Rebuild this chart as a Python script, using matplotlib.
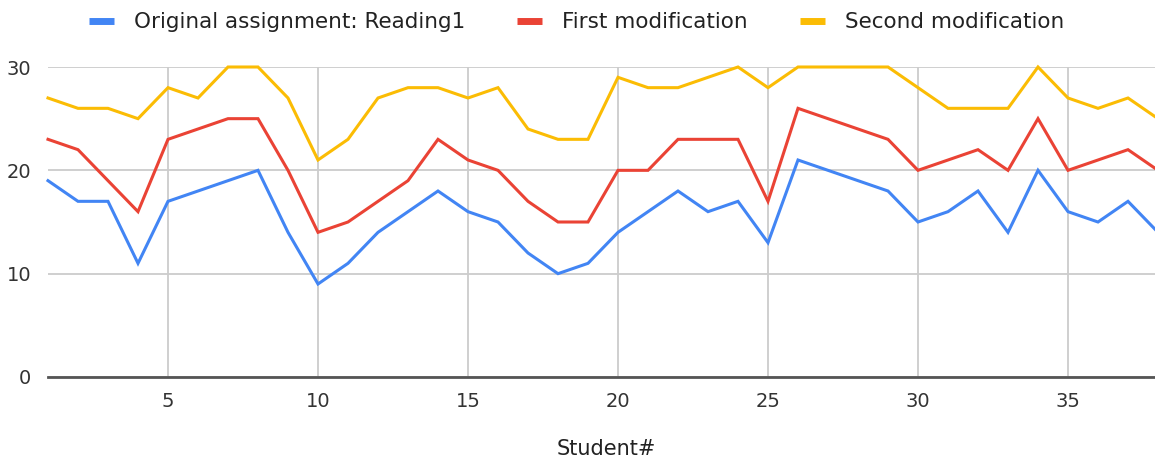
import numpy as np
import matplotlib
matplotlib.use('Agg')
import matplotlib.pyplot as plt

plt.rcParams['font.family'] = ['DejaVu Sans']

# 学生ごとの得点
students = list(range(1, 39))
original = [19, 17, 17, 11, 17, 18, 19, 20, 14, 9, 11, 14, 16, 18, 16, 15, 12, 10, 11, 14,
            16, 18, 16, 17, 13, 21, 20, 19, 18, 15, 16, 18, 14, 20, 16, 15, 17, 14]
first_mod = [23, 22, 19, 16, 23, 24, 25, 25, 20, 14, 15, 17, 19, 23, 21, 20, 17, 15, 15, 20,
             20, 23, 23, 23, 17, 26, 25, 24, 23, 20, 21, 22, 20, 25, 20, 21, 22, 20]
second_mod = [27, 26, 26, 25, 28, 27, 30, 30, 27, 21, 23, 27, 28, 28, 27, 28, 24, 23, 23, 29,
              28, 28, 29, 30, 28, 30, 30, 30, 30, 28, 26, 26, 26, 30, 27, 26, 27, 25]

series = [
    ('Original assignment: Reading1', original, '#4285F4'),
    ('First modification', first_mod, '#EA4335'),
    ('Second modification', second_mod, '#FBBC04'),
]

W, H = 1155, 459
fig = plt.figure(figsize=(W / 100, H / 100), dpi=100)
ax = fig.add_axes([48 / W, (H - 377) / H, 1107 / W, 310 / H])

for label, vals, color in series:
    ax.plot(students, vals, color=color, lw=2.2, label=label,
            solid_joinstyle='miter', zorder=3, clip_on=False)

ax.set_xlim(1, 37.9)
ax.set_ylim(0, 30)
ax.set_xticks([5, 10, 15, 20, 25, 30, 35])
ax.set_yticks([0, 10, 20, 30])
ax.grid(True, color='#cccccc', lw=1.3, zorder=0)
for s in ['top', 'right', 'left']:
    ax.spines[s].set_visible(False)
ax.spines['bottom'].set_color('#555555')
ax.spines['bottom'].set_linewidth(2)
ax.spines['bottom'].set_zorder(4)
ax.tick_params(length=0, labelsize=14, colors='#333333')
ax.tick_params(axis='x', pad=11)
ax.tick_params(axis='y', pad=12)
ax.set_xlabel('Student#', fontsize=15, color='#222222')
ax.xaxis.set_label_coords((606 - 48) / 1107, -(449 - 377) / 310)
ax.xaxis.label.set_va('center')

leg = fig.legend(loc='center', bbox_to_anchor=(576.5 / W, 1 - 22.5 / H), ncol=3,
                 frameon=False, fontsize=15.5, handlelength=1.16, handletextpad=0.95,
                 columnspacing=2.4, labelcolor='#222222')
for h in leg.legend_handles:
    h.set_linewidth(5)
    h.set_solid_capstyle('butt')

fig.savefig('out.png', dpi=100)
